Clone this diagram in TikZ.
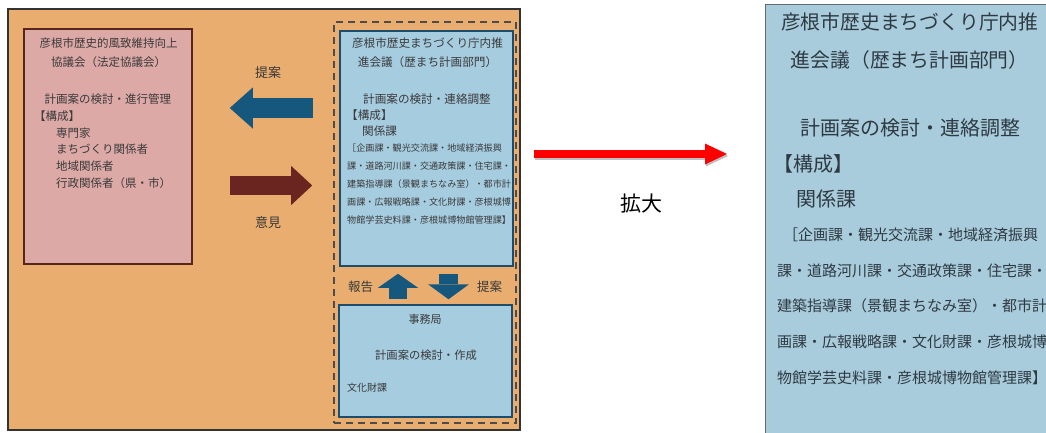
\documentclass[tikz,border=0pt]{standalone}
\usepackage{fontspec}
\setmainfont{Noto Sans CJK JP}
\usepackage{tikz}
\usetikzlibrary{arrows.meta, positioning, calc}

\definecolor{bgorange}{HTML}{E8AD6F}
\definecolor{pinkfill}{HTML}{DCA9A7}
\definecolor{pinkline}{HTML}{5A2519}
\definecolor{bluefill}{HTML}{A6CCE0}
\definecolor{blueline}{HTML}{1D4D6B}
\definecolor{zoomfill}{HTML}{A9CCDD}
\definecolor{zoomline}{HTML}{5F6C74}
\definecolor{zoomtext}{HTML}{2E3A42}
\definecolor{arrowblue}{HTML}{16577E}
\definecolor{arrowbrown}{HTML}{6B2521}
\definecolor{inktext}{HTML}{3A3A3A}

\begin{document}
\begin{tikzpicture}[x=1pt, y=-1pt,
  box/.style={rectangle, draw, line width=1.5pt, inner sep=0pt},
  txt/.style={inner sep=0pt, text=inktext},
  lbl/.style={txt, anchor=base, font=\fontsize{13}{13}\selectfont},
  fat/.style n args={4}{line width=#1, draw=#4, -{Triangle[length=#2, width=#3, line width=0pt]}}]

\useasboundingbox (0,0) rectangle (1046,432);

% 全体の枠
\node[box, fill=bgorange, draw=black!80, line width=1.2pt, minimum width=512pt, minimum height=421pt] (panel) at (264,219.5) {};

% 協議会・庁内推進会議・事務局
\node[box, fill=pinkfill, draw=pinkline, minimum width=168pt, minimum height=235pt] (council) at (108,146.5) {};
\node[box, draw=black!70, line width=1.6pt, dash pattern=on 7pt off 5pt, minimum width=182pt, minimum height=401pt] (group) at (425,222.5) {};
\node[box, fill=bluefill, draw=blueline, minimum width=173pt, minimum height=235pt] (office) at (426.5,148.5) {};
\node[box, fill=bluefill, draw=blueline, minimum width=173pt, minimum height=112pt] (secretariat) at (425.5,361) {};

% 協議会の文字 (base は最終行)
\node[txt, align=center, anchor=base, font=\fontsize{11.5}{19}\selectfont] (councilT) at (108.5,66.4) {彦根市歴史的風致維持向上\\協議会（法定協議会）};
\node[txt, align=left, anchor=base west, font=\fontsize{11.5}{16.8}\selectfont] (councilB) at (34,187.4) {\hspace{10.5pt}計画案の検討・進行管理\\【構成】\\\hspace{22pt}専門家\\\hspace{22pt}まちづくり関係者\\\hspace{22pt}地域関係者\\\hspace{22pt}行政関係者（県・市）};

% 庁内推進会議の文字
\node[txt, align=center, anchor=base, font=\fontsize{11.6}{19}\selectfont] (officeT) at (427.5,66.4) {彦根市歴史まちづくり庁内推\\進会議（歴まち計画部門）};
\node[txt, align=left, anchor=base west, font=\fontsize{11.6}{16}\selectfont] (officeB) at (346,135.4) {\hspace{17pt}計画案の検討・連絡調整\\【構成】\\\hspace{16pt}関係課};
\node[txt, align=left, anchor=base west, font=\fontsize{9.1}{18}\selectfont] (officeL) at (347,223.5) {［企画課・観光交流課・地域経済振興\\課・道路河川課・交通政策課・住宅課・\\建築指導課（景観まちなみ室）・都市計\\画課・広報戦略課・文化財課・彦根城博\\物館学芸史料課・彦根城博物館管理課】};

% 事務局の文字
\node[txt, anchor=base, font=\fontsize{11}{11}\selectfont] (secT) at (425,323.2) {事務局};
\node[txt, anchor=base, font=\fontsize{11.3}{11.3}\selectfont] (secB) at (426,359.3) {計画案の検討・作成};
\node[txt, anchor=base west, font=\fontsize{10}{10}\selectfont] (secL) at (347,391.8) {文化財課};

% 矢印
\coordinate (lvA) at (0,108);
\coordinate (lvB) at (0,185.5);
\coordinate (colA) at (398,0);
\coordinate (colB) at (448.5,0);
\draw[fat={20pt}{23pt}{41pt}{arrowblue}, shorten <=20pt, shorten >=37pt] (group.west |- lvA) -- (council.east |- lvA);
\draw[fat={19pt}{21pt}{39pt}{arrowbrown}, shorten <=37pt, shorten >=21pt] (council.east |- lvB) -- (group.west |- lvB);
\draw[fat={18pt}{14pt}{40pt}{arrowblue}, shorten <=5pt, shorten >=7pt] (secretariat.north -| colA) -- (office.south -| colA);
\draw[fat={19pt}{15pt}{41pt}{arrowblue}, shorten <=7pt, shorten >=5pt] (office.south -| colB) -- (secretariat.north -| colB);

% 矢印のラベル
\node[lbl] (proposeL) at (268,77) {提案};
\node[lbl] (opinion) at (268,227) {意見};
\node[lbl, font=\fontsize{12.5}{12.5}\selectfont] (report) at (360.5,291.7) {報告};
\node[lbl, font=\fontsize{12.5}{12.5}\selectfont] (proposeR) at (489.5,291.7) {提案};

% 拡大図
\begin{scope}
  \clip (763,3) rectangle (1046,432);
  \node[box, fill=zoomfill, draw=zoomline, line width=1.2pt, minimum width=300pt, minimum height=450pt, anchor=north west] (zoom) at (765,4) {};
  \node[txt, text=zoomtext, align=center, anchor=base, font=\fontsize{19.8}{38}\selectfont] (zoomT) at (909.7,67.5) {彦根市歴史まちづくり庁内推\\進会議（歴まち計画部門）};
  \node[txt, text=zoomtext, align=left, anchor=base west, font=\fontsize{20}{35.6}\selectfont] (zoomB) at (773,206.8) {\hspace{27pt}計画案の検討・連絡調整\\【構成】\\\hspace{23pt}関係課};
  \node[txt, text=zoomtext, align=left, anchor=base west, font=\fontsize{15}{35.6}\selectfont] (zoomL) at (777,383) {\hspace{6pt}［企画課・観光交流課・地域経済振興\\課・道路河川課・交通政策課・住宅課・\\建築指導課（景観まちなみ室）・都市計\\画課・広報戦略課・文化財課・彦根城博\\物館学芸史料課・彦根城博物館管理課】};
\end{scope}

% 拡大の矢印
\coordinate (lvC) at (0,154);
\draw[fat={8pt}{22pt}{21pt}{black}, opacity=.25, transform canvas={shift={(1pt,-2pt)}}, shorten <=13pt, shorten >=38pt] (panel.east |- lvC) -- (zoom.west |- lvC);
\draw[fat={8pt}{22pt}{21pt}{red}, shorten <=13pt, shorten >=38pt] (panel.east |- lvC) -- (zoom.west |- lvC);
\node[txt, text=black, anchor=base, font=\fontsize{21}{21}\selectfont] (enlarge) at (641,211) {拡大};

\end{tikzpicture}
\end{document}
